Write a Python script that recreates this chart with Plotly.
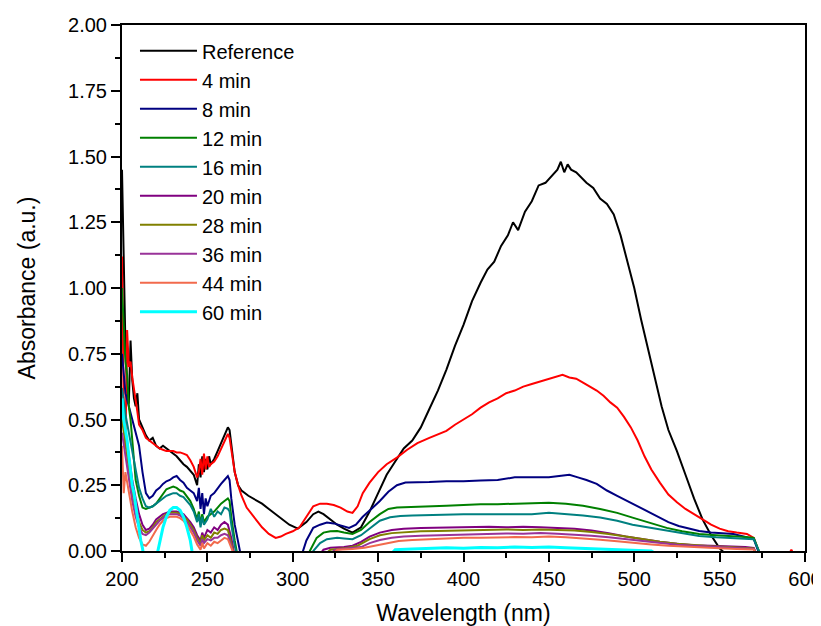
import plotly.graph_objects as go

# ---------------- data ----------------
ref_x = [200, 201, 202, 203, 204, 205, 206, 207, 208, 209, 210, 212, 214, 216, 218, 220, 222, 224, 226, 228,
         230, 232, 234, 236, 238, 240, 242, 244, 245, 246, 247, 248, 249, 250, 251, 252, 254, 256, 258, 260,
         262, 263, 264, 266, 268, 270, 274, 278, 282, 286, 290, 294, 298, 303, 308, 312, 315, 318, 322, 326,
         330, 335, 340, 345, 350, 355, 360, 365, 370, 375, 380, 385, 390, 395, 400, 405, 410, 414, 418, 422,
         426, 429, 432, 436, 440, 444, 448, 452, 455, 457, 459, 461, 463, 466, 469, 472, 476, 480, 484, 488,
         492, 496, 500, 504, 508, 512, 516, 520, 525, 530, 535, 540, 545, 550, 555, 560, 570, 580, 590, 600]
ref_y = [1.45, 1.05, 0.78, 0.62, 0.56, 0.80, 0.65, 0.58, 0.55, 0.60, 0.50, 0.47, 0.44, 0.42, 0.43, 0.40, 0.39, 0.40, 0.39, 0.38,
         0.37, 0.36, 0.345, 0.33, 0.32, 0.305, 0.29, 0.25, 0.33, 0.28, 0.36, 0.30, 0.35, 0.31, 0.36, 0.33, 0.35, 0.38, 0.41, 0.44,
         0.47, 0.46, 0.40, 0.30, 0.25, 0.23, 0.21, 0.195, 0.18, 0.16, 0.14, 0.12, 0.10, 0.085, 0.11, 0.14, 0.15, 0.14, 0.12, 0.10,
         0.085, 0.07, 0.09, 0.15, 0.22, 0.29, 0.34, 0.39, 0.42, 0.47, 0.54, 0.61, 0.69, 0.78, 0.86, 0.95, 1.02, 1.07, 1.10, 1.16,
         1.20, 1.25, 1.22, 1.29, 1.33, 1.39, 1.40, 1.43, 1.45, 1.48, 1.44, 1.47, 1.45, 1.44, 1.42, 1.40, 1.38, 1.34, 1.32, 1.28,
         1.20, 1.10, 1.00, 0.88, 0.77, 0.66, 0.55, 0.46, 0.38, 0.29, 0.20, 0.12, 0.06, 0.01, -0.02, -0.03, -0.03, -0.03, -0.02, -0.03]

m4_x = [200, 201, 202, 203, 204, 205, 206, 207, 208, 209, 210, 212, 214, 216, 218, 220, 222, 224, 226, 228,
        230, 232, 234, 236, 238, 240, 242, 244, 245, 246, 247, 248, 249, 250, 251, 252, 254, 256, 258, 260,
        262, 263, 264, 266, 268, 270, 273, 276, 279, 282, 286, 290, 293, 296, 300, 304, 308, 312, 316, 320,
        324, 328, 332, 335, 338, 341, 345, 350, 355, 361, 367, 373, 380, 385, 390, 395, 400, 405, 410, 415,
        420, 425, 430, 435, 440, 445, 450, 455, 458, 462, 466, 470, 474, 478, 482, 486, 490, 494, 498, 502,
        506, 510, 515, 520, 525, 530, 535, 540, 545, 550, 555, 560, 566, 570, 572, 574, 590, 592, 594, 600]
m4_y = [1.12, 0.55, 0.40, 0.84, 0.70, 0.72, 0.66, 0.62, 0.57, 0.53, 0.48, 0.46, 0.43, 0.42, 0.41, 0.40, 0.39, 0.385, 0.38, 0.38,
        0.38, 0.375, 0.375, 0.37, 0.365, 0.345, 0.32, 0.28, 0.30, 0.35, 0.29, 0.37, 0.31, 0.36, 0.32, 0.33, 0.34, 0.36, 0.39, 0.42,
        0.445, 0.43, 0.39, 0.30, 0.25, 0.21, 0.165, 0.14, 0.115, 0.09, 0.065, 0.05, 0.055, 0.065, 0.075, 0.09, 0.13, 0.17, 0.18, 0.18,
        0.175, 0.165, 0.15, 0.145, 0.17, 0.22, 0.26, 0.30, 0.33, 0.355, 0.385, 0.41, 0.43, 0.445, 0.457, 0.48, 0.50, 0.52, 0.545, 0.565,
        0.58, 0.60, 0.61, 0.625, 0.635, 0.645, 0.655, 0.665, 0.67, 0.66, 0.655, 0.64, 0.625, 0.61, 0.59, 0.565, 0.545, 0.51, 0.47, 0.42,
        0.36, 0.31, 0.26, 0.215, 0.185, 0.16, 0.14, 0.12, 0.10, 0.085, 0.075, 0.07, 0.065, 0.05, 0.01, -0.02, -0.02, 0.005, -0.02, -0.02]

m8_x = [200, 202, 204, 206, 208, 210, 212, 214, 216, 218, 220, 222, 224, 226, 228, 230, 232, 234, 236, 238,
        240, 242, 244, 245, 246, 247, 248, 249, 250, 252, 254, 256, 258, 260, 262, 263, 264, 266, 268, 270,
        300, 305, 308, 312, 316, 320, 324, 328, 333, 337, 341, 346, 351, 356, 361, 366, 372, 380, 390, 400,
        410, 420, 430, 440, 450, 456, 462, 467, 472, 478, 484, 490, 496, 502, 508, 514, 520, 526, 532, 538,
        545, 552, 558, 564, 570, 572, 574, 600]
m8_y = [0.75, 0.60, 0.55, 0.50, 0.45, 0.40, 0.30, 0.22, 0.20, 0.21, 0.23, 0.24, 0.255, 0.265, 0.27, 0.28, 0.285, 0.27, 0.26, 0.24,
        0.23, 0.22, 0.19, 0.24, 0.16, 0.22, 0.14, 0.20, 0.17, 0.21, 0.22, 0.24, 0.255, 0.27, 0.285, 0.27, 0.20, 0.10, 0.03, -0.03,
        -0.03, -0.02, 0.04, 0.088, 0.10, 0.108, 0.105, 0.097, 0.088, 0.10, 0.13, 0.16, 0.19, 0.225, 0.25, 0.26, 0.26, 0.262, 0.265, 0.265,
        0.268, 0.27, 0.28, 0.28, 0.28, 0.285, 0.29, 0.28, 0.27, 0.255, 0.23, 0.21, 0.19, 0.17, 0.15, 0.13, 0.11, 0.095, 0.085, 0.076,
        0.07, 0.066, 0.065, 0.055, 0.045, 0.01, -0.02, -0.02]

m12_x = [200, 201, 202, 203, 204, 205, 206, 207, 208, 210, 212, 214, 216, 218, 220, 222, 224, 226, 228, 230,
         232, 234, 236, 238, 240, 242, 244, 245, 246, 247, 248, 250, 252, 254, 256, 258, 260, 262, 263, 264,
         266, 268, 308, 310, 314, 318, 322, 326, 330, 335, 340, 345, 351, 356, 361, 370, 380, 390, 400, 410,
         420, 430, 440, 450, 460, 470, 480, 490, 499, 510, 519, 528, 538, 548, 558, 565, 570, 573, 575, 600]
m12_y = [1.00, 0.85, 0.72, 0.67, 0.55, 0.50, 0.42, 0.32, 0.27, 0.21, 0.165, 0.16, 0.165, 0.17, 0.18, 0.20, 0.22, 0.235, 0.24, 0.245,
         0.24, 0.23, 0.225, 0.205, 0.19, 0.16, 0.12, 0.15, 0.10, 0.14, 0.11, 0.13, 0.14, 0.15, 0.165, 0.18, 0.19, 0.20, 0.19, 0.13,
         0.04, -0.03, -0.03, 0.0, 0.05, 0.07, 0.075, 0.076, 0.07, 0.065, 0.08, 0.11, 0.14, 0.16, 0.165, 0.168, 0.17, 0.172, 0.175, 0.178,
         0.178, 0.18, 0.18, 0.183, 0.18, 0.172, 0.16, 0.145, 0.127, 0.105, 0.088, 0.075, 0.065, 0.06, 0.057, 0.053, 0.05, 0.0, -0.02, -0.02]

m16_x = [200, 202, 204, 206, 208, 210, 212, 214, 216, 218, 220, 222, 224, 226, 228, 230, 232, 234, 236, 238,
         240, 242, 244, 245, 246, 247, 248, 250, 252, 254, 256, 258, 260, 262, 263, 264, 266, 268, 310, 312,
         316, 320, 326, 330, 335, 340, 345, 351, 357, 363, 370, 380, 390, 400, 410, 420, 430, 440, 450, 460,
         470, 480, 490, 499, 510, 519, 528, 538, 548, 558, 565, 570, 573, 575, 600]
m16_y = [0.62, 0.52, 0.45, 0.38, 0.30, 0.24, 0.20, 0.17, 0.165, 0.17, 0.18, 0.19, 0.20, 0.21, 0.215, 0.22, 0.22, 0.21, 0.205, 0.19,
         0.175, 0.15, 0.11, 0.14, 0.09, 0.13, 0.10, 0.12, 0.16, 0.13, 0.15, 0.14, 0.165, 0.16, 0.15, 0.10, 0.02, -0.03, -0.03, 0.0,
         0.03, 0.045, 0.05, 0.048, 0.045, 0.06, 0.085, 0.115, 0.128, 0.133, 0.135, 0.137, 0.138, 0.14, 0.14, 0.14, 0.142, 0.14, 0.145, 0.14,
         0.135, 0.127, 0.115, 0.10, 0.088, 0.076, 0.066, 0.057, 0.052, 0.05, 0.047, 0.045, 0.0, -0.02, -0.02]

m20_x = [200, 202, 204, 206, 208, 210, 212, 214, 216, 218, 220, 222, 224, 226, 228, 230, 232, 234, 236, 238,
         240, 242, 244, 246, 247, 248, 250, 252, 254, 256, 258, 260, 262, 264, 266, 315, 318, 322, 330, 335,
         340, 345, 351, 358, 365, 375, 385, 395, 405, 415, 425, 435, 445, 455, 465, 475, 485, 495, 505, 515,
         525, 535, 545, 555, 565, 570, 572, 600]
m20_y = [0.55, 0.45, 0.35, 0.27, 0.20, 0.14, 0.10, 0.08, 0.085, 0.10, 0.12, 0.13, 0.14, 0.145, 0.15, 0.15, 0.15, 0.145, 0.14, 0.125,
         0.11, 0.09, 0.06, 0.04, 0.07, 0.05, 0.08, 0.07, 0.09, 0.08, 0.10, 0.11, 0.10, 0.05, -0.02, -0.02, 0.005, 0.012, 0.015, 0.02,
         0.035, 0.055, 0.07, 0.08, 0.085, 0.087, 0.088, 0.09, 0.09, 0.092, 0.09, 0.092, 0.09, 0.088, 0.085, 0.078, 0.068, 0.055, 0.045, 0.035,
         0.028, 0.022, 0.02, 0.018, 0.015, 0.012, -0.02, -0.02]

m28_x = [200, 202, 204, 206, 208, 210, 212, 214, 216, 218, 220, 222, 224, 226, 228, 230, 232, 234, 236, 238,
         240, 242, 244, 246, 247, 248, 250, 252, 254, 256, 258, 260, 262, 264, 266, 318, 322, 330, 338, 345,
         351, 358, 365, 375, 385, 395, 405, 415, 425, 435, 445, 455, 465, 475, 485, 495, 505, 515, 525, 535,
         545, 555, 565, 570, 572, 600]
m28_y = [0.50, 0.40, 0.30, 0.22, 0.16, 0.11, 0.08, 0.07, 0.075, 0.09, 0.11, 0.12, 0.13, 0.14, 0.145, 0.145, 0.145, 0.14, 0.13, 0.12,
         0.10, 0.08, 0.05, 0.03, 0.06, 0.04, 0.06, 0.05, 0.07, 0.065, 0.08, 0.085, 0.08, 0.03, -0.02, -0.02, 0.005, 0.01, 0.02, 0.045,
         0.06, 0.068, 0.072, 0.075, 0.076, 0.078, 0.08, 0.08, 0.082, 0.08, 0.082, 0.08, 0.078, 0.072, 0.065, 0.055, 0.045, 0.035, 0.028, 0.022,
         0.018, 0.015, 0.013, 0.01, -0.02, -0.02]

m36_x = [200, 202, 204, 206, 208, 210, 212, 214, 216, 218, 220, 222, 224, 226, 228, 230, 232, 234, 236, 238,
         240, 242, 244, 246, 247, 248, 250, 252, 254, 256, 258, 260, 262, 264, 266, 320, 325, 333, 340, 345,
         351, 358, 365, 375, 385, 395, 405, 415, 425, 435, 445, 455, 465, 475, 485, 495, 505, 515, 525, 535,
         545, 555, 565, 570, 572, 600]
m36_y = [0.45, 0.36, 0.27, 0.19, 0.13, 0.09, 0.065, 0.06, 0.07, 0.085, 0.10, 0.115, 0.125, 0.135, 0.14, 0.14, 0.14, 0.135, 0.125, 0.11,
         0.09, 0.07, 0.04, 0.02, 0.045, 0.03, 0.045, 0.04, 0.05, 0.05, 0.06, 0.065, 0.06, 0.02, -0.02, -0.02, 0.005, 0.01, 0.015, 0.03,
         0.042, 0.05, 0.055, 0.058, 0.06, 0.062, 0.065, 0.065, 0.067, 0.066, 0.068, 0.066, 0.063, 0.058, 0.052, 0.045, 0.038, 0.03, 0.024, 0.02,
         0.016, 0.013, 0.01, 0.008, -0.02, -0.02]

m44_x = [200, 201, 202, 204, 206, 208, 210, 212, 214, 216, 218, 220, 222, 224, 226, 228, 230, 232, 234, 236,
         238, 240, 242, 244, 246, 247, 248, 250, 252, 254, 256, 258, 260, 262, 264, 266, 322, 326, 335, 342,
         348, 355, 362, 370, 380, 390, 400, 410, 420, 430, 440, 450, 460, 470, 480, 490, 500, 510, 520, 530,
         540, 550, 560, 570, 572, 600]
m44_y = [0.40, 0.22, 0.30, 0.22, 0.15, 0.09, 0.05, 0.025, 0.02, 0.035, 0.06, 0.08, 0.10, 0.115, 0.125, 0.13, 0.13, 0.13, 0.125, 0.115,
         0.10, 0.08, 0.055, 0.025, 0.005, 0.03, 0.01, 0.03, 0.02, 0.035, 0.03, 0.04, 0.05, 0.045, 0.01, -0.02, -0.02, 0.005, 0.008, 0.012,
         0.02, 0.03, 0.038, 0.042, 0.045, 0.047, 0.05, 0.05, 0.052, 0.053, 0.052, 0.055, 0.052, 0.048, 0.043, 0.037, 0.03, 0.025, 0.02, 0.016,
         0.013, 0.01, 0.008, 0.006, -0.02, -0.02]

m60_x = [200, 201, 202, 203, 204, 205, 206, 207, 208, 209, 210, 211, 212, 213, 220, 221, 222, 224, 226, 228,
         230, 232, 234, 236, 238, 240, 241, 242, 355, 360, 370, 380, 390, 400, 410, 420, 430, 440, 450, 460,
         470, 480, 490, 500, 510, 515, 600]
m60_y = [0.58, 0.50, 0.46, 0.42, 0.36, 0.30, 0.25, 0.22, 0.17, 0.12, 0.08, 0.04, 0.01, -0.03, -0.03, 0.0, 0.04, 0.09, 0.13, 0.155,
         0.165, 0.165, 0.155, 0.13, 0.09, 0.04, 0.0, -0.03, -0.03, 0.005, 0.008, 0.01, 0.012, 0.01, 0.013, 0.012, 0.015, 0.013, 0.015, 0.012,
         0.01, 0.008, 0.006, 0.004, 0.0, -0.02, -0.02]

series_names = ["Reference", "4 min", "8 min", "12 min", "16 min", "20 min", "28 min", "36 min", "44 min", "60 min"]
series_x = [ref_x, m4_x, m8_x, m12_x, m16_x, m20_x, m28_x, m36_x, m44_x, m60_x]
series_y = [ref_y, m4_y, m8_y, m12_y, m16_y, m20_y, m28_y, m36_y, m44_y, m60_y]
series_colors = ["#000000", "#ff0000", "#000080", "#008000", "#008080", "#800080", "#808000", "#993399", "#f26a4c", "#00ffff"]
series_widths = [2, 2, 2, 2, 2, 2, 2, 2, 2, 3]

x_ticks = [200, 250, 300, 350, 400, 450, 500, 550, 600]
y_ticks = [0.0, 0.25, 0.5, 0.75, 1.0, 1.25, 1.5, 1.75, 2.0]

# ---------------- figure ----------------
fig = go.Figure()
for name, xs, ys, c, w in zip(series_names, series_x, series_y, series_colors, series_widths):
    fig.add_trace(go.Scatter(x=xs, y=ys, mode="lines", name=name,
                             line=dict(color=c, width=w)))

font_family = "Liberation Sans, Arial, sans-serif"
axis_common = dict(
    showline=True, linecolor="black", linewidth=2, mirror=True,
    ticks="outside", ticklen=9, tickwidth=2, tickcolor="black",
    showgrid=False, zeroline=False, automargin=False,
    ticklabeloverflow="allow",
    tickfont=dict(family=font_family, size=20, color="black"),
)

# the page body adds an 8px offset, so the figure is sized to fit the window
fig.update_layout(
    width=813, height=618,
    margin=dict(l=114, r=16, t=17, b=75),
    plot_bgcolor="white", paper_bgcolor="white",
    font=dict(family=font_family, color="black"),
    showlegend=True,
    legend=dict(
        x=0.019, y=0.988, xanchor="left", yanchor="top",
        bgcolor="rgba(0,0,0,0)", borderwidth=0,
        font=dict(family=font_family, size=20, color="black"),
        itemwidth=57, tracegroupgap=0,
    ),
)
fig.update_xaxes(
    range=[200, 600], tickvals=x_ticks, ticktext=[str(v) for v in x_ticks],
    minor=dict(ticks="outside", ticklen=5, tickwidth=2, tickcolor="black", dtick=25, tick0=200, showgrid=False),
    title=dict(text="Wavelength (nm)", font=dict(family=font_family, size=23, color="black"), standoff=27),
    **axis_common,
)
fig.update_yaxes(
    range=[0, 2], tickvals=y_ticks, ticktext=["%.2f" % v for v in y_ticks],
    minor=dict(ticks="outside", ticklen=5, tickwidth=2, tickcolor="black", dtick=0.125, tick0=0, showgrid=False),
    title=dict(text="Absorbance (a.u.)", font=dict(family=font_family, size=23, color="black"), standoff=26),
    **axis_common,
)

fig.write_html("out.html")
